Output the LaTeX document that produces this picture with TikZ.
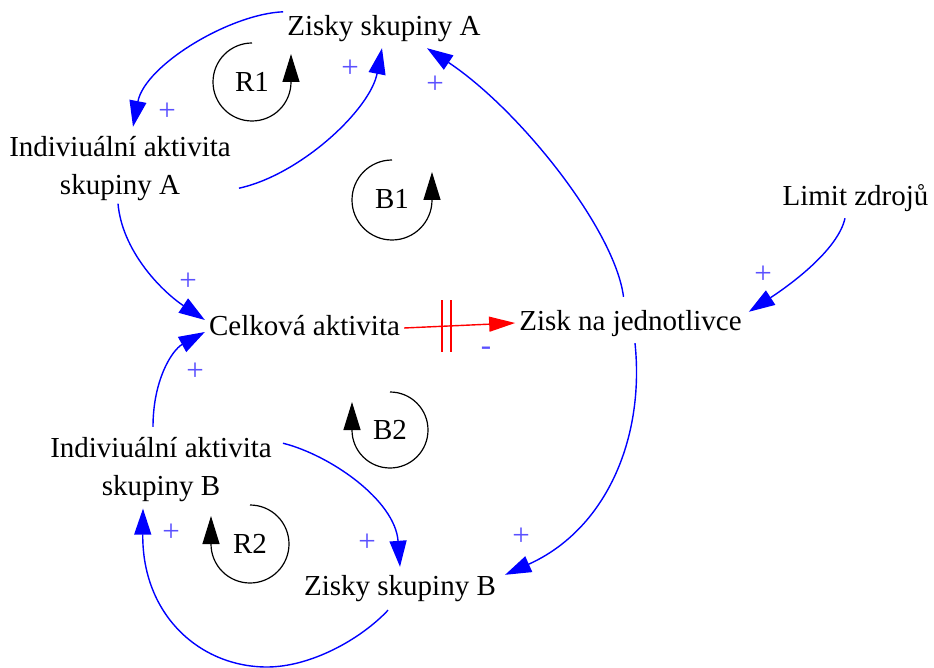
\documentclass[tikz,border=0pt]{standalone}
\usepackage{fontspec}
\setmainfont{Liberation Serif}
\usetikzlibrary{arrows.meta,calc}
\definecolor{cldblue}{RGB}{0,0,255}
\definecolor{polblue}{RGB}{90,80,255}
\definecolor{cldred}{RGB}{255,0,0}
\begin{document}
\begin{tikzpicture}[x=1pt,y=-1pt,
  var/.style={inner sep=4pt, font=\fontsize{29}{38}\selectfont, text height=20pt, text depth=6pt, anchor=base},
  var2/.style={inner sep=4pt, font=\fontsize{29}{38}\selectfont, align=center},
  link/.style={draw=cldblue, line width=1.4pt, -{Triangle[length=26pt,width=17pt]}},
  dlink/.style={draw=cldred, line width=1.4pt, -{Triangle[length=26pt,width=15pt]}},
  pol/.style={text=polblue, inner sep=0pt, font=\fontsize{31}{31}\selectfont},
  looplbl/.style={inner sep=0pt, font=\fontsize{29}{38}\selectfont},
  loopline/.style={draw=black, line width=1.2pt, -{Triangle[length=28pt,width=17pt]}}
]
\useasboundingbox (0,0) rectangle (934,668);

% variables
\node[var] (zA) at (384,36) {Zisky skupiny A};
\node[var2] (indA) at (120,168.2) {Indiviuální aktivita\\skupiny A};
\node[var] (cel) at (304.5,335) {Celková aktivita};
\node[var] (zisk) at (630.5,330) {Zisk na jednotlivce};
\node[var] (lim) at (855.5,206) {Limit zdrojů};
\node[var2] (indB) at (161,469.2) {Indiviuální aktivita\\skupiny B};
\node[var] (zB) at (400,595) {Zisky skupiny B};

% links
\draw[link] (zA.north west) .. controls (230,14) and (145,65) .. ([xshift=13pt,yshift=5pt]indA.north);
\draw[link] ([xshift=4pt,yshift=-20pt]indA.east) .. controls (300,175) and (370,110) .. ([xshift=-2pt,yshift=-2pt]zA.south);
\draw[link] ([xshift=-7pt,yshift=9pt]zisk.north) .. controls (615,230) and (520,110) .. ([xshift=43pt,yshift=-2pt]zA.south);
\draw[link] ([xshift=-10.5pt,yshift=-2pt]lim.south) .. controls (838,250) and (790,285) .. ([xshift=3pt,yshift=-6pt]zisk.north east);
\draw[link] ([xshift=-2pt,yshift=1pt]indA.south) .. controls (122,250) and (160,290) .. ([yshift=8pt]cel.west);
\draw[link] ([xshift=-8pt,yshift=6pt]indB.north) .. controls (153,380) and (172,350) .. ([yshift=-4pt]cel.west);
\draw[dlink] (cel.east) -- (zisk.west);
\draw[link] ([xshift=4.5pt,yshift=-3pt]zisk.south) .. controls (645,440) and (605,530) .. ([xshift=5pt,yshift=-4pt]zB.north east);
\draw[link] ([xshift=7pt,yshift=26pt]indB.east) .. controls (330,455) and (395,500) .. ([yshift=4pt]zB.north);
\draw[link] ([xshift=-12pt,yshift=-5pt]zB.south) .. controls (360,640) and (310,667) .. (267,667)
   .. controls (200,667) and (142,615) .. ([xshift=-18pt,yshift=-3pt]indB.south);

% delay mark
\path ($(cel.east)!0.38!(zisk.west)$) coordinate (dm);
\draw[cldred, line width=1.4pt]
  ([xshift=-4.5pt,yshift=26pt]dm) -- ([xshift=-4.5pt,yshift=-26pt]dm)
  ([xshift=4.5pt,yshift=26pt]dm) -- ([xshift=4.5pt,yshift=-26pt]dm);

% polarities
\node[pol] (p1) at (167,112) {+};
\node[pol] (p2) at (350,69) {+};
\node[pol] (p3) at (435,85) {+};
\node[pol] (p4) at (763,275) {+};
\node[pol] (p5) at (188,282) {+};
\node[pol] (p6) at (195,372) {+};
\node[pol] (p7) at (486,351) {-};
\node[pol] (p8) at (521,537) {+};
\node[pol] (p9) at (367,543) {+};
\node[pol] (p10) at (171,533) {+};

% loops
\node[looplbl] (r1) at (252,82) {R1};
\draw[loopline] ([yshift=39pt]r1.center) arc[start angle=90,end angle=360,radius=39pt] -- ++(0pt,28pt);
\node[looplbl] (b1) at (392,199) {B1};
\draw[loopline] ([yshift=39pt]b1.center) arc[start angle=90,end angle=360,radius=40pt] -- ++(0pt,28pt);
\node[looplbl] (b2) at (390,430) {B2};
\draw[loopline] ([yshift=38pt]b2.center) arc[start angle=90,end angle=-180,radius=38pt] -- ++(0pt,28pt);
\node[looplbl] (r2) at (250,544) {R2};
\draw[loopline] ([yshift=39pt]r2.center) arc[start angle=90,end angle=-180,radius=39pt] -- ++(0pt,28pt);
\end{tikzpicture}
\end{document}
